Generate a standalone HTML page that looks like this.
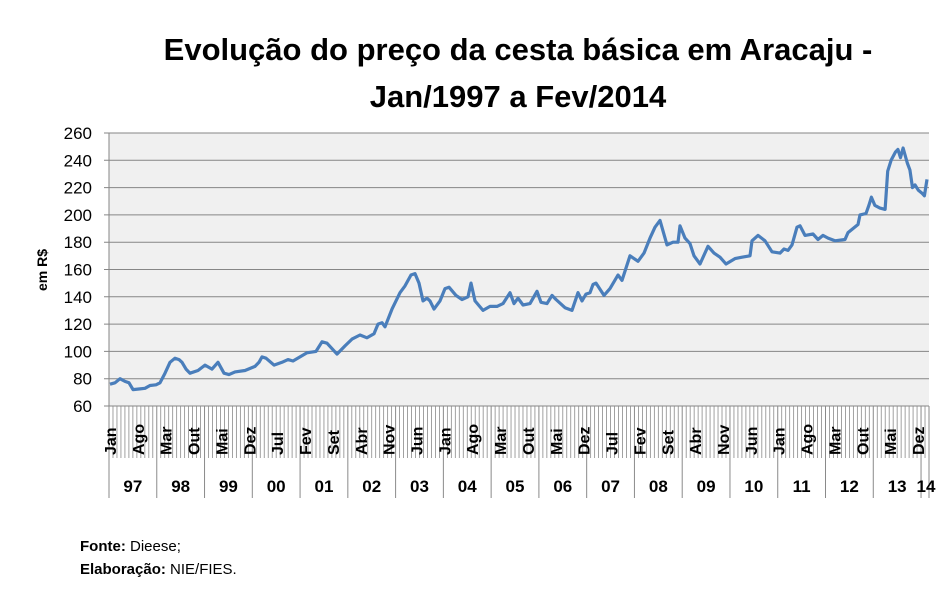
<!DOCTYPE html>
<html><head><meta charset="utf-8"><style>
body{margin:0;background:#fff;}
svg{display:block;font-family:"Liberation Sans",Arial,sans-serif;}
</style></head><body>
<svg id="s" width="951" height="591" viewBox="0 0 951 591" xmlns="http://www.w3.org/2000/svg">
<rect width="951" height="591" fill="#fff"/>
<text x="518" y="60" text-anchor="middle" font-size="31" font-weight="bold" fill="#000">Evolução do preço da cesta básica em Aracaju -</text>
<text x="518" y="107" text-anchor="middle" font-size="31" font-weight="bold" fill="#000">Jan/1997 a Fev/2014</text>
<rect x="109" y="133" width="820" height="273" fill="#f0f0f0"/>
<g id="grid"></g>
<text transform="translate(47,270) rotate(-90)" text-anchor="middle" font-size="14" font-weight="bold">em R$</text>
<polyline id="ln" fill="none" stroke="#4a7ebb" stroke-width="3.2" stroke-linejoin="round"/>
<text x="80" y="551" font-size="15"><tspan font-weight="bold">Fonte:</tspan>  Dieese;</text>
<text x="80" y="574" font-size="15"><tspan font-weight="bold">Elaboração:</tspan> NIE/FIES.</text>
</svg>
<script>
var NS="http://www.w3.org/2000/svg",g=document.getElementById("grid");
function el(t,a,txt){var e=document.createElementNS(NS,t);for(var k in a)e.setAttribute(k,a[k]);if(txt)e.textContent=txt;g.appendChild(e);return e;}
function Y(v){return 133+(260-v)*1.365;}
for(var v=60;v<=260;v+=20){el("line",{x1:104,x2:929,y1:Y(v),y2:Y(v),stroke:"#868686","stroke-width":1});
el("text",{x:92,y:Y(v)+6,"text-anchor":"end","font-size":17},String(v));}
el("line",{x1:109,x2:109,y1:133,y2:406,stroke:"#868686"});
var w=820/206;
for(var k=0;k<=206;k++){var x=109+k*w;var yr=(k%12==0)||k==206;
el("line",{x1:x,x2:x,y1:406,y2:yr?498:458,stroke:"#8a8a8a","stroke-width":yr?1:0.8});}
var mn=["Jan","Fev","Mar","Abr","Mai","Jun","Jul","Ago","Set","Out","Nov","Dez"];
for(var k=0;k<206;k+=7){var x=109+(k+0.5)*w+5;
el("text",{transform:"translate("+x+",455) rotate(-90)","font-size":16,"font-weight":"bold"},mn[k%12]);}
var yrs=["97","98","99","00","01","02","03","04","05","06","07","08","09","10","11","12","13"];
for(var i=0;i<17;i++){el("text",{x:109+(i*12+6)*w,y:492,"text-anchor":"middle","font-size":17,"font-weight":"bold"},yrs[i]);}
el("text",{x:926,y:492,"text-anchor":"middle","font-size":17,"font-weight":"bold"},"14");
var p=[[110,76],[115,77],[120,80],[125,78],[129,77],[133,72],[140,72.5],[145,73],[150,75],[156,75.5],[160,77],[165,84],[170,92],[175,95],[179,94],[182,92],[186,87],[190,84],[198,86],[205,90],[212,87],[218,92],[224,84],[229,83],[235,85],[245,86],[255,89],[259,92],[262,96],[266,95],[274,90],[282,92],[288,94],[293,93],[300,96],[307,99],[316,100],[322,107],[327,106],[337,98],[345,104],[352,109],[360,112],[367,110],[374,113],[378,120],[382,121],[385,118],[392,131],[400,143],[405,148],[411,156],[415,157],[419,150],[423,137],[427,139],[430,137],[434,131],[440,137],[445,146],[449,147],[456,141],[462,138],[468,140],[471,150],[475,137],[483,130],[490,133],[497,133],[503,135],[510,143],[514,135],[518,139],[523,134],[530,135],[537,144],[541,136],[547,135],[552,141],[556,138],[565,132],[572,130],[578,143],[582,137],[586,142],[590,143],[593,149],[596,150],[604,141],[610,146],[618,156],[622,152],[630,170],[638,166],[644,172],[650,183],[655,191],[660,196],[667,178],[673,180],[678,180],[680,192],[685,183],[690,179],[694,170],[700,164],[708,177],[714,172],[720,169],[726,164],[735,168],[742,169],[750,170],[752,181],[758,185],[765,181],[772,173],[780,172],[784,175],[788,174],[792,178],[797,191],[800,192],[805,185],[813,186],[818,182],[823,185],[828,183],[835,181],[845,182],[848,187],[858,193],[860,200],[866,201],[869,207],[872,213],[876,207],[882,205],[888,204],[891,232],[895,240],[900,246],[903,248],[906,242],[909,249],[914,238],[917,233],[920,220],[923,222],[927,218],[931,216],[934,214],[937,226]];
var pts=p.map(function(q){var x=q[0];if(x>868)x=868+(x-868)*(59/69);return x.toFixed(1)+","+Y(q[1]).toFixed(1);}).join(" ");
document.getElementById("ln").setAttribute("points",pts);
</script>
</body></html>
